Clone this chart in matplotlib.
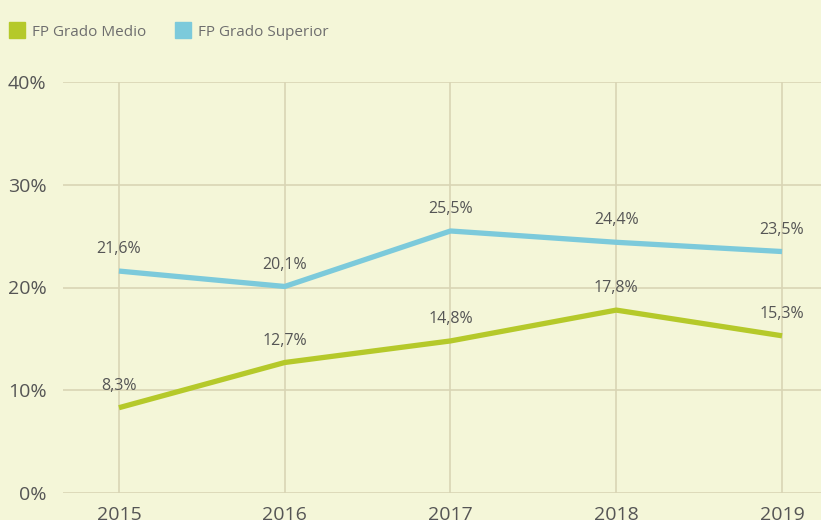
import matplotlib.pyplot as plt
from matplotlib.patches import Rectangle

# data
years = [2015, 2016, 2017, 2018, 2019]
grado_medio = [8.3, 12.7, 14.8, 17.8, 15.3]
grado_superior = [21.6, 20.1, 25.5, 24.4, 23.5]
series_names = ['FP Grado Medio', 'FP Grado Superior']
y_ticks = [0, 10, 20, 30, 40]

BG = '#f4f6d8'
GRID = '#d9d5b5'
TEXT = '#555555'
GREEN = '#b5c92a'
BLUE = '#7ccadb'

plt.rcParams['font.family'] = ['Open Sans', 'DejaVu Sans']

fig = plt.figure(figsize=(8.21, 5.2), dpi=100, facecolor=BG)
ax = fig.add_axes([63 / 821, 1 - 493 / 520, 1 - 63 / 821, (493 - 82) / 520])
ax.set_facecolor(BG)

ax.set_xlim(2014 + 1 - 56 / 166, 2019 + 39 / 166)
ax.set_ylim(0, 40)

for s in ax.spines.values():
    s.set_visible(False)

# grid
for y in y_ticks:
    ax.axhline(y, color=GRID, lw=1.2, zorder=0)
for x in years:
    ax.axvline(x, color=GRID, lw=1.2, zorder=0)

ax.set_yticks(y_ticks)
ax.set_yticklabels([str(v) + '%' for v in y_ticks], fontsize=14, color=TEXT)
ax.set_xticks(years)
ax.set_xticklabels([str(v) for v in years], fontsize=14, color=TEXT)
ax.tick_params(length=0)
ax.tick_params(axis='x', pad=9)
ax.tick_params(axis='y', pad=12)

ax.plot(years, grado_medio, color=GREEN, lw=3.8, solid_capstyle='butt', zorder=3)
ax.plot(years, grado_superior, color=BLUE, lw=3.8, solid_capstyle='butt', zorder=3)

for xs, ys in [(years, grado_medio), (years, grado_superior)]:
    for x, y in zip(xs, ys):
        lab = ('%.1f%%' % y).replace('.', ',')
        ax.annotate(lab, (x, y), xytext=(0, 10), textcoords='offset points',
                    ha='center', va='bottom', fontsize=11.5, color=TEXT)

# legend
for i, (name, col) in enumerate(zip(series_names, [GREEN, BLUE])):
    x0 = [9, 175][i]
    fig.patches.append(Rectangle((x0 / 821, 1 - 38 / 520), 16 / 821, 16 / 520,
                                 transform=fig.transFigure, color=col))
    fig.text((x0 + 23) / 821, 1 - 32 / 520, name, fontsize=11, color='#6e6e6e',
             va='center', ha='left')

fig.savefig('out.png', dpi=100, facecolor=BG)
